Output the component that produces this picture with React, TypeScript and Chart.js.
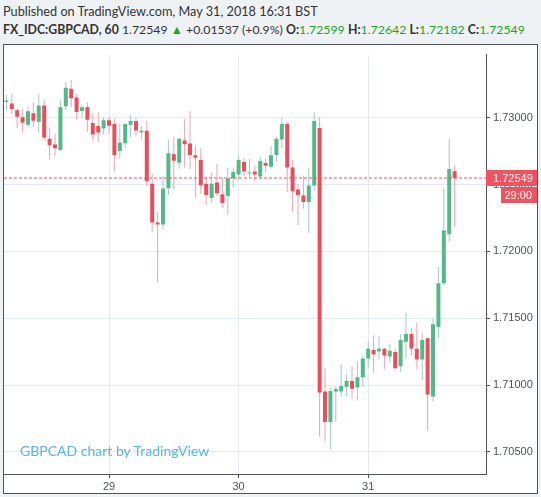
import React, { useEffect, useRef } from "react";
import { Chart, registerables } from "chart.js";

Chart.register(...registerables);

// Hourly GBPCAD candles, 28 May 05:00 -> 31 May 16:00
const OPEN = [
  1.73117, 1.73107, 1.73056, 1.73004, 1.72948, 1.73034, 1.72970, 1.73092, 1.72843, 1.72799,
  1.72759, 1.73087, 1.73217, 1.73151, 1.73051, 1.73078, 1.72961, 1.72939, 1.72919, 1.72982,
  1.72953, 1.72751, 1.72810, 1.72948, 1.72975, 1.72889, 1.72902, 1.72507, 1.72217, 1.72202,
  1.72473, 1.72727, 1.72663, 1.72829, 1.72807, 1.72720, 1.72683, 1.72507, 1.72400, 1.72515,
  1.72427, 1.72414, 1.72546, 1.72575, 1.72669, 1.72583, 1.72597, 1.72561, 1.72661, 1.72634,
  1.72722, 1.72838, 1.72953, 1.72627, 1.72463, 1.72419, 1.72370, 1.72493, 1.72924, 1.70951,
  1.70724, 1.70951, 1.70951, 1.70988, 1.71030, 1.70981, 1.71059, 1.71199, 1.71263, 1.71251,
  1.71271, 1.71214, 1.71248, 1.71141, 1.71324, 1.71381, 1.71271, 1.71192, 1.71351, 1.70915,
  1.71434, 1.71761, 1.72129, 1.72599,
];
const HIGH = [
  1.73173, 1.73180, 1.73070, 1.73070, 1.73085, 1.73114, 1.73180, 1.73136, 1.72929, 1.72880,
  1.73136, 1.73268, 1.73283, 1.73180, 1.73100, 1.73114, 1.73034, 1.73041, 1.73004, 1.73004,
  1.72990, 1.72953, 1.72961, 1.73019, 1.72997, 1.72939, 1.72975, 1.72581, 1.72290, 1.72566,
  1.72836, 1.72858, 1.72851, 1.72990, 1.73048, 1.72792, 1.72771, 1.72559, 1.72588, 1.72654,
  1.72552, 1.72627, 1.72627, 1.72720, 1.72698, 1.72691, 1.72641, 1.72712, 1.72691, 1.72786,
  1.72858, 1.72997, 1.72968, 1.72683, 1.72507, 1.72566, 1.72627, 1.73041, 1.73004, 1.71125,
  1.70984, 1.70991, 1.71155, 1.71081, 1.71140, 1.71177, 1.71220, 1.71322, 1.71373, 1.71366,
  1.71278, 1.71307, 1.71271, 1.71381, 1.71541, 1.71424, 1.71468, 1.71395, 1.71351, 1.71497,
  1.71886, 1.72471, 1.72843, 1.72642,
];
const LOW = [
  1.73058, 1.73026, 1.72924, 1.72887, 1.72931, 1.72931, 1.72887, 1.72829, 1.72685, 1.72715,
  1.72749, 1.73056, 1.73078, 1.72985, 1.72997, 1.72895, 1.72831, 1.72816, 1.72875, 1.72882,
  1.72597, 1.72693, 1.72773, 1.72853, 1.72860, 1.72838, 1.72488, 1.72144, 1.71769, 1.72166,
  1.72422, 1.72458, 1.72619, 1.72627, 1.72612, 1.72400, 1.72429, 1.72348, 1.72363, 1.72414,
  1.72326, 1.72275, 1.72480, 1.72532, 1.72561, 1.72554, 1.72524, 1.72539, 1.72597, 1.72619,
  1.72671, 1.72773, 1.72444, 1.72297, 1.72195, 1.72319, 1.72137, 1.72451, 1.70614, 1.70578,
  1.70519, 1.70724, 1.70915, 1.70915, 1.70900, 1.70885, 1.70988, 1.71133, 1.71091, 1.71192,
  1.71119, 1.71170, 1.71119, 1.71097, 1.71199, 1.71221, 1.71119, 1.71038, 1.70658, 1.70878,
  1.71353, 1.71747, 1.72070, 1.72182,
];
const CLOSE = [
  1.73129, 1.73065, 1.73007, 1.72963, 1.73048, 1.72977, 1.73092, 1.72853, 1.72794, 1.72772,
  1.73078, 1.73224, 1.73146, 1.73043, 1.73078, 1.72985, 1.72875, 1.72889, 1.72982, 1.72941,
  1.72722, 1.72814, 1.72953, 1.72975, 1.72904, 1.72902, 1.72524, 1.72217, 1.72202, 1.72471,
  1.72734, 1.72678, 1.72843, 1.72802, 1.72722, 1.72700, 1.72495, 1.72422, 1.72507, 1.72436,
  1.72363, 1.72546, 1.72595, 1.72683, 1.72597, 1.72588, 1.72575, 1.72676, 1.72641, 1.72720,
  1.72843, 1.72953, 1.72627, 1.72451, 1.72422, 1.72370, 1.72493, 1.72975, 1.70944, 1.70724,
  1.70956, 1.70971, 1.70993, 1.71030, 1.70973, 1.71059, 1.71198, 1.71271, 1.71229, 1.71271,
  1.71221, 1.71256, 1.71126, 1.71337, 1.71381, 1.71273, 1.71192, 1.71337, 1.70929, 1.71454,
  1.71761, 1.72156, 1.72617, 1.72549,
];

// Day boundaries (candle index at 00:00) and their labels
const DAY_TICKS = [19, 43, 67];
const DAY_LABELS = ["29", "30", "31"];
const PRICE_TICKS = [1.705, 1.71, 1.715, 1.72, 1.725, 1.73];
const COUNTDOWN = "29:00";

const UP = "#53b987";
const DOWN = "#eb4d5c";
const UP_WICK = "#9fcbc4";
const DOWN_WICK = "#f3a2aa";
const AXIS = "#50535e";
const GRID = "#e2ebf1";
const TEXT = "#4c525e";
const TAG_RED = "#ef5360";

const X_MIN = -0.444;
const X_MAX = 88.81;
const Y_MIN = 1.703343;
const Y_MAX = 1.734726;

const priceTag = {
  id: "priceTag",
  afterDraw(chart: any) {
    const { ctx, chartArea } = chart;
    const y = chart.scales.y;
    const last = CLOSE[CLOSE.length - 1];
    const py = y.getPixelForValue(last);
    const x0 = chartArea.right;
    const ry = Math.round(py);
    ctx.save();
    ctx.fillStyle = TAG_RED;
    ctx.fillRect(x0, ry - 8, chart.width - x0, 16);
    ctx.fillRect(x0 + 15, ry + 9, chart.width - x0 - 15, 16);
    ctx.fillStyle = "#ffffff";
    ctx.font = '11px "Liberation Sans", Arial, sans-serif';
    ctx.textBaseline = "middle";
    ctx.textAlign = "left";
    ctx.fillText(last.toFixed(5), x0 + 7, ry + 0.5);
    ctx.textAlign = "right";
    ctx.fillText(COUNTDOWN, chart.width - 5, ry + 17.5);
    ctx.restore();
  },
};

export default function App() {
  const ref = useRef<HTMLCanvasElement | null>(null);

  useEffect(() => {
    if (!ref.current) return;
    const idx = OPEN.map((_, i) => i);
    const isUp = idx.map((i) => CLOSE[i] >= OPEN[i]);
    const last = CLOSE[CLOSE.length - 1];

    const chart = new Chart(ref.current, {
      type: "bar",
      data: {
        datasets: [
          {
            type: "line",
            data: [
              { x: X_MIN, y: last },
              { x: X_MAX, y: last },
            ],
            borderColor: TAG_RED,
            borderWidth: 1,
            borderDash: [3, 2],
            pointRadius: 0,
            order: 0,
          } as any,
          {
            data: idx.map((i) => ({ x: i, y: [Math.min(OPEN[i], CLOSE[i]), Math.max(OPEN[i], CLOSE[i])] })),
            backgroundColor: isUp.map((u) => (u ? UP : DOWN)),
            borderWidth: 0,
            barThickness: 4,
            minBarLength: 1,
            grouped: false,
            inflateAmount: 0,
            order: 1,
          } as any,
          {
            data: idx.map((i) => ({ x: i, y: [LOW[i], HIGH[i]] })),
            backgroundColor: isUp.map((u) => (u ? UP_WICK : DOWN_WICK)),
            borderWidth: 0,
            barThickness: 1,
            grouped: false,
            inflateAmount: 0,
            order: 2,
          } as any,
        ],
      },
      options: {
        responsive: false,
        maintainAspectRatio: false,
        animation: false,
        layout: { padding: 0 },
        plugins: { legend: { display: false }, tooltip: { enabled: false } },
        scales: {
          x: {
            type: "linear",
            min: X_MIN,
            max: X_MAX,
            offset: false,
            grid: { offset: false, color: GRID, tickColor: AXIS, tickLength: 4, drawTicks: true },
            border: { display: true, color: AXIS, width: 1 },
            afterBuildTicks: (s: any) => {
              s.ticks = DAY_TICKS.map((v) => ({ value: v }));
            },
            afterFit: (s: any) => {
              s.height = 19;
            },
            ticks: {
              autoSkip: false,
              maxRotation: 0,
              padding: 2,
              color: TEXT,
              font: { family: '"Liberation Sans", Arial, sans-serif', size: 11 },
              callback: (v: any) => {
                const k = DAY_TICKS.indexOf(Number(v));
                return k >= 0 ? DAY_LABELS[k] : "";
              },
            },
          },
          y: {
            type: "linear",
            position: "right",
            min: Y_MIN,
            max: Y_MAX,
            grid: { color: GRID, tickColor: AXIS, tickLength: 4, drawTicks: true },
            border: { display: true, color: AXIS, width: 1 },
            afterBuildTicks: (s: any) => {
              s.ticks = PRICE_TICKS.map((v) => ({ value: v }));
            },
            afterFit: (s: any) => {
              s.width = 51;
            },
            ticks: {
              padding: 3,
              color: TEXT,
              font: { family: '"Liberation Sans", Arial, sans-serif', size: 11 },
              callback: (v: any) => Number(v).toFixed(5),
            },
          },
        },
      },
      plugins: [priceTag],
    });
    return () => chart.destroy();
  }, []);

  const green = "#1fa51f";
  const hdr = { fontFamily: "Lato, 'Open Sans', sans-serif", color: "#333", whiteSpace: "nowrap" as const };

  return (
    <div
      style={{
        position: "fixed",
        left: 0,
        top: 0,
        width: 541,
        height: 497,
        background: "#eff2f5",
        overflow: "hidden",
      }}
    >
      <div style={{ ...hdr, position: "absolute", left: 3, top: 3, fontSize: 12.7, lineHeight: "16px" }}>
        Published on TradingView.com, May 31, 2018 16:31 BST
      </div>
      <div style={{ ...hdr, position: "absolute", left: 3, top: 21, fontSize: 12.3, lineHeight: "18px" }}>
        <b>FX_IDC:GBPCAD, 60</b> 1.72549 <span style={{ color: green }}>▲</span> +0.01537 (+0.9%){" "}
        <b>O:</b>
        <span style={{ color: green }}>1.72599</span> <b>H:</b>
        <span style={{ color: green }}>1.72642</span> <b>L:</b>
        <span style={{ color: green }}>1.72182</span> <b>C:</b>
        <span style={{ color: green }}>1.72549</span>
      </div>
      <div
        style={{
          position: "absolute",
          left: 3,
          top: 44,
          width: 535,
          height: 450,
          boxSizing: "border-box",
          border: `1px solid ${AXIS}`,
          background: "#ffffff",
        }}
      >
        <canvas ref={ref} width={533} height={448} style={{ display: "block", width: 533, height: 448 }} />
        <div
          style={{
            position: "absolute",
            left: 16,
            top: 397,
            fontFamily: "Lato, 'Open Sans', sans-serif",
            fontSize: 14,
            lineHeight: "18px",
            color: "#55b4e7",
            whiteSpace: "nowrap",
          }}
        >
          GBPCAD chart by TradingView
        </div>
      </div>
    </div>
  );
}
